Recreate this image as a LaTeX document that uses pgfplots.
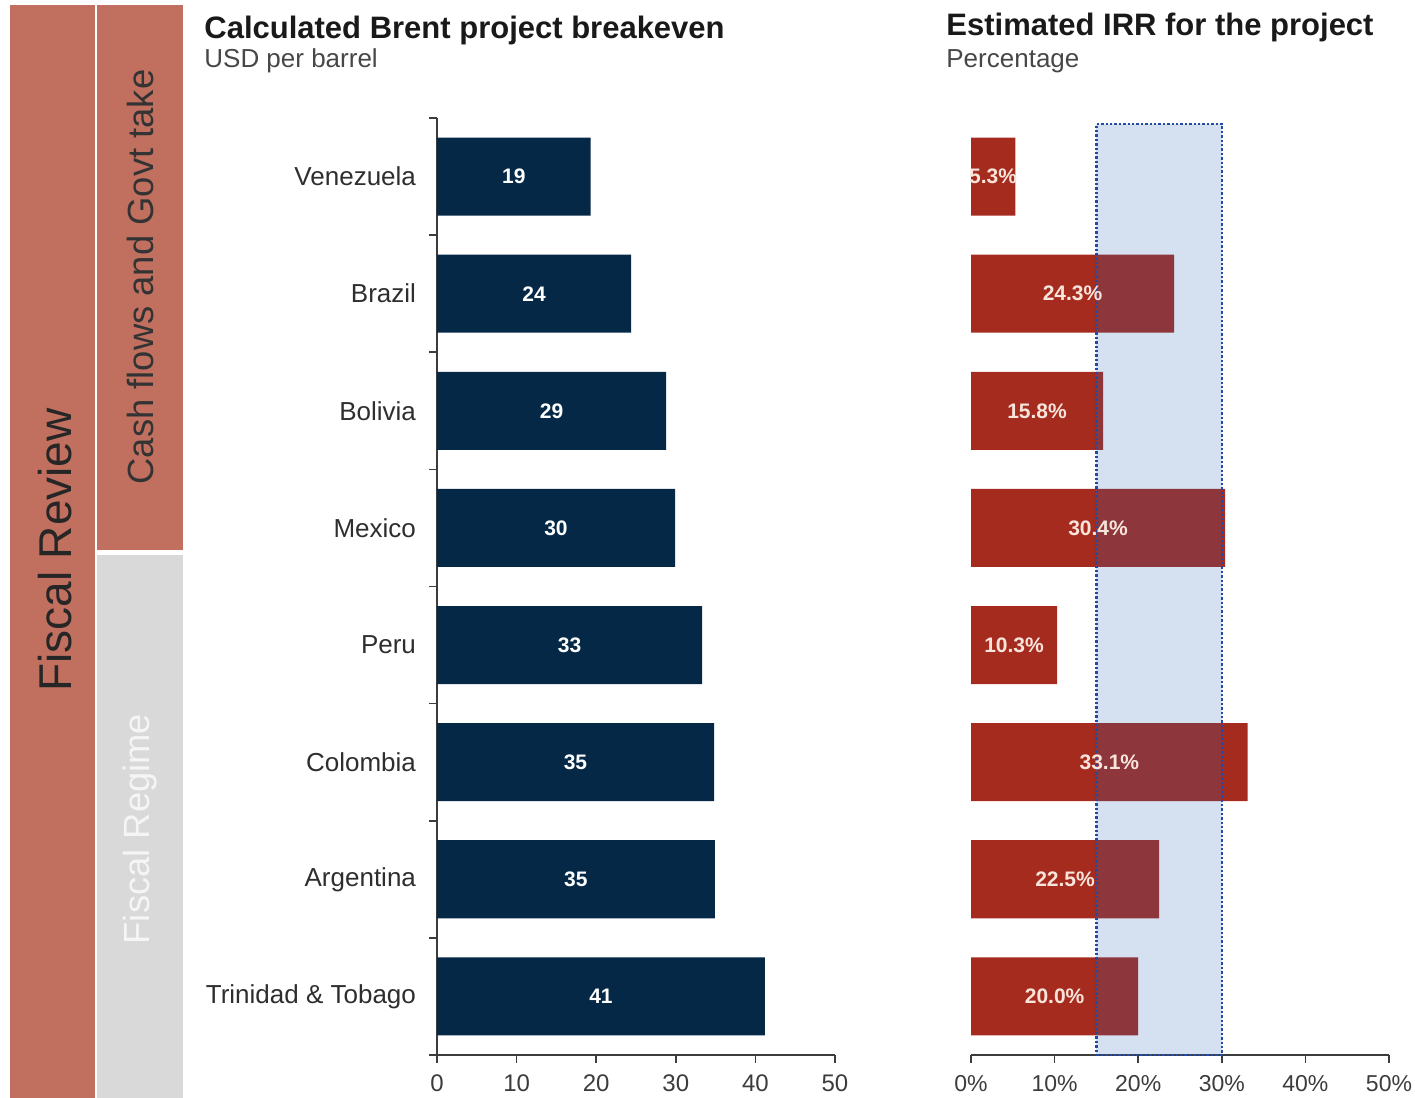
\documentclass[border=0pt]{standalone}
\usepackage{pgfplots}
\usepackage{pgfplotstable}
\pgfplotsset{compat=1.18}
\usepackage{fontspec}
\setmainfont{Liberation Sans}

\definecolor{navy}{RGB}{4,40,70}
\definecolor{irrred}{RGB}{166,43,31}
\definecolor{salmon}{RGB}{193,112,96}
\definecolor{panelgrey}{RGB}{217,217,217}
\definecolor{bandblue}{RGB}{45,100,180}
\definecolor{banddot}{RGB}{35,75,165}
\definecolor{axisgrey}{RGB}{60,60,60}
\definecolor{labelpink}{RGB}{248,228,218}

% idx 7 = top row (Venezuela), idx 0 = bottom row (Trinidad & Tobago)
\pgfplotstableread{
idx breakeven irr
7   19.3  5.3
6   24.4  24.3
5   28.8  15.8
4   29.9  30.4
3   33.3  10.3
2   34.8  33.1
1   34.9  22.5
0   41.2  20.0
}\projects

\begin{document}
\begin{tikzpicture}
\useasboundingbox (0,0) rectangle (707.5pt,549pt);

% side panels
\fill[salmon] (5pt,0) rectangle (47.5pt,546.5pt);
\fill[salmon] (48.5pt,274pt) rectangle (91.5pt,546.5pt);
\fill[panelgrey] (48.5pt,0) rectangle (91.5pt,271.5pt);
\node[rotate=90, text=black!85, font=\fontsize{23}{26}\selectfont] at (27.5pt,274pt) {Fiscal Review};
\node[rotate=90, text=black!80, font=\fontsize{18.2}{21}\selectfont] at (70pt,410.5pt) {Cash flows and Govt take};
\node[rotate=90, text=white!96!black, font=\fontsize{18.2}{21}\selectfont] at (70pt,134.5pt) {Fiscal Regime};

% titles
\node[anchor=base west, inner sep=0, font=\bfseries\fontsize{15.5}{18}\selectfont, text=black!90] at (102pt,529.5pt) {Calculated Brent project breakeven};
\node[anchor=base west, inner sep=0, font=\fontsize{13}{15}\selectfont, text=black!72] at (102pt,515pt) {USD per barrel};
\node[anchor=base west, inner sep=0, font=\bfseries\fontsize{15.5}{18}\selectfont, text=black!90] at (473pt,531pt) {Estimated IRR for the project};
\node[anchor=base west, inner sep=0, font=\fontsize{13}{15}\selectfont, text=black!72] at (473pt,515pt) {Percentage};

% breakeven chart
\begin{axis}[
  at={(218.5pt,21.5pt)}, anchor=south west,
  scale only axis, width=199pt, height=468.5pt,
  xmin=0, xmax=50, ymin=-0.5, ymax=7.5,
  axis x line*=bottom, axis y line*=left,
  axis line style={axisgrey, line width=0.8pt},
  tick align=outside, major tick length=4pt,
  tick style={axisgrey, line width=0.8pt},
  xtick={0,10,20,30,40,50}, xticklabels={0,10,20,30,40,50},
  xticklabel style={font=\fontsize{12}{14}\selectfont, text=axisgrey, yshift=-2.5pt},
  ytick={-0.5,0.5,1.5,2.5,3.5,4.5,5.5,6.5,7.5}, yticklabels={},
  extra y ticks={0,1,2,3,4,5,6,7},
  extra y tick labels={Trinidad \& Tobago,Argentina,Colombia,Peru,Mexico,Bolivia,Brazil,Venezuela},
  extra y tick style={major tick length=0pt,
    yticklabel style={font=\fontsize{13}{15}\selectfont, text=black!82, xshift=-7pt}},
  /pgf/number format/assume math mode=true,
  clip=false,
]
\addplot[xbar, bar width=0.667, fill=navy, draw=none] table[x=breakeven, y=idx] {\projects};
\addplot[draw=none, mark=none, point meta=explicit,
  nodes near coords={\pgfmathprintnumber[fixed,precision=0]{\pgfplotspointmeta}},
  every node near coord/.append style={anchor=center, text=white, font=\bfseries\fontsize{10.5}{12}\selectfont}]
  table[x expr=\thisrow{breakeven}/2, y=idx, meta=breakeven] {\projects};
\end{axis}

% IRR chart
\begin{axis}[
  at={(485.5pt,21.5pt)}, anchor=south west,
  scale only axis, width=209pt, height=468.5pt,
  xmin=0, xmax=50, ymin=-0.5, ymax=7.5,
  axis x line*=bottom, axis y line=none, ytick=\empty,
  axis line style={axisgrey, line width=0.8pt},
  tick align=outside, major tick length=4pt,
  tick style={axisgrey, line width=0.8pt},
  xtick={0,10,20,30,40,50}, xticklabels={0\%,10\%,20\%,30\%,40\%,50\%},
  xticklabel style={font=\fontsize{11.5}{14}\selectfont, text=axisgrey, yshift=-2.5pt},
  /pgf/number format/assume math mode=true,
  clip=false,
]
\addplot[xbar, bar width=0.667, fill=irrred, draw=none] table[x=irr, y=idx] {\projects};
% 15%-30% target band
\addplot[fill=bandblue, fill opacity=0.2, draw=banddot, line width=1.3pt,
  dash pattern=on 1.2pt off 1pt]
  coordinates {(15,-0.5) (30,-0.5) (30,7.45) (15,7.45)} -- cycle;
\addplot[draw=none, mark=none, point meta=explicit,
  nodes near coords={\pgfmathprintnumber[fixed,fixed zerofill,precision=1]{\pgfplotspointmeta}\%},
  every node near coord/.append style={anchor=center, text=labelpink, font=\bfseries\fontsize{10.5}{12}\selectfont}]
  table[x expr=\thisrow{irr}/2, y=idx, meta=irr] {\projects};
\end{axis}
\end{tikzpicture}
\end{document}
